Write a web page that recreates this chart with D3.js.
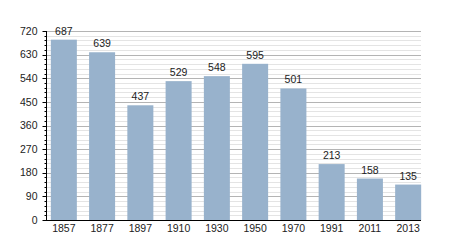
<!DOCTYPE html>
<html>
<head>
<meta charset="utf-8">
<script src="https://cdn.jsdelivr.net/npm/d3@7"></script>
<style>
  body { margin: 0; background: #fff; }
  text { font-family: "Liberation Sans", Arial, sans-serif; font-size: 10.5px; fill: #222; }
</style>
</head>
<body>
<div id="chart"></div>
<script>

// data
const years = ['1857', '1877', '1897', '1910', '1930', '1950', '1970', '1991', '2011', '2013'];
const population = [687, 639, 437, 529, 548, 595, 501, 213, 158, 135];
const yTicks = [0, 90, 180, 270, 360, 450, 540, 630, 720];

const width = 450;
const height = 250;
const margin = { top: 31, right: 29, bottom: 30, left: 47 };

const svg = d3.select('#chart').append('svg')
  .attr('width', width)
  .attr('height', height);

const x = d3.scaleBand()
  .domain(years)
  .range([margin.left, 425])
  .paddingInner(0.32)
  .paddingOuter(0.1);

const y = d3.scaleLinear()
  .domain([0, 720])
  .range([height - margin.bottom, margin.top]);

const gridRight = 421;

// minor grid every 18
svg.append('g')
  .selectAll('line')
  .data(d3.range(18, 720, 18).filter(v => v % 90 !== 0))
  .enter()
  .append('line')
  .attr('x1', margin.left)
  .attr('x2', gridRight)
  .attr('y1', d => Math.round(y(d)) + 0.5)
  .attr('y2', d => Math.round(y(d)) + 0.5)
  .attr('stroke', '#e4e4e4');

// major grid
svg.append('g')
  .selectAll('line')
  .data(yTicks.filter(v => v > 0))
  .enter()
  .append('line')
  .attr('x1', margin.left)
  .attr('x2', gridRight)
  .attr('y1', d => Math.round(y(d)) + 0.5)
  .attr('y2', d => Math.round(y(d)) + 0.5)
  .attr('stroke', '#b4b4b4');

// bars
svg.append('g')
  .selectAll('rect')
  .data(population)
  .enter()
  .append('rect')
  .attr('x', (d, i) => x(years[i]))
  .attr('y', d => y(d))
  .attr('width', x.bandwidth())
  .attr('height', d => y(0) - y(d))
  .attr('fill', '#98b2cc');

// value labels
svg.append('g')
  .selectAll('text')
  .data(population)
  .enter()
  .append('text')
  .attr('x', (d, i) => x(years[i]) + x.bandwidth() / 2)
  .attr('y', d => y(d) - 5)
  .attr('text-anchor', 'middle')
  .text(d => d);

// y axis with minor ticks
const yAxis = svg.append('g')
  .attr('transform', 'translate(' + (margin.left - 0.5) + ',0)');

yAxis.append('line')
  .attr('y1', y(720))
  .attr('y2', y(0))
  .attr('stroke', '#000');

yAxis.selectAll('.minor')
  .data(d3.range(0, 721, 18))
  .enter()
  .append('line')
  .attr('class', 'minor')
  .attr('x1', d => d % 90 === 0 ? -4 : -2)
  .attr('x2', 0)
  .attr('y1', d => Math.round(y(d)) + 0.5)
  .attr('y2', d => Math.round(y(d)) + 0.5)
  .attr('stroke', '#000');

yAxis.selectAll('text')
  .data(yTicks)
  .enter()
  .append('text')
  .attr('x', -9)
  .attr('y', d => y(d))
  .attr('dy', '0.35em')
  .attr('text-anchor', 'end')
  .text(d => d);

// baseline
svg.append('line')
  .attr('x1', margin.left - 2)
  .attr('x2', gridRight)
  .attr('y1', y(0) + 0.5)
  .attr('y2', y(0) + 0.5)
  .attr('stroke', '#000');

// x labels
svg.append('g')
  .selectAll('text')
  .data(years)
  .enter()
  .append('text')
  .attr('x', d => x(d) + x.bandwidth() / 2)
  .attr('y', y(0) + 12)
  .attr('text-anchor', 'middle')
  .text(d => d);

</script>
</body>
</html>
